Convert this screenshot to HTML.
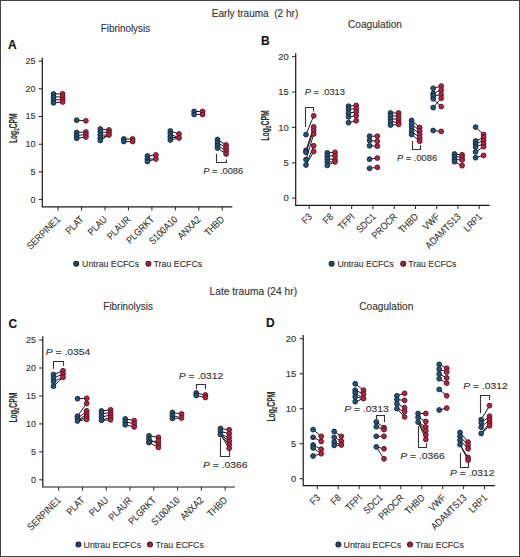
<!DOCTYPE html>
<html><head><meta charset="utf-8"><title>Figure</title>
<style>
html,body{margin:0;padding:0;background:#fff;}
body{width:520px;height:557px;overflow:hidden;}
svg{display:block;font-family:"Liberation Sans", sans-serif;}
text{stroke:#333;stroke-width:0.12px;}
</style></head><body>
<svg width="520" height="557" viewBox="0 0 520 557">
<rect x="0" y="0" width="520" height="557" fill="#fff"/>
<path d="M42.3 57.8 V206.9 H232.4" fill="none" stroke="#1a1a1a" stroke-width="1.2"/>
<line x1="38.699999999999996" y1="199.6" x2="42.3" y2="199.6" stroke="#222" stroke-width="1.0"/>
<text x="35.4" y="202.588" font-size="8.3" text-anchor="end" font-weight="normal" fill="#333" textLength="5.0" lengthAdjust="spacingAndGlyphs">0</text>
<line x1="38.699999999999996" y1="171.9" x2="42.3" y2="171.9" stroke="#222" stroke-width="1.0"/>
<text x="35.4" y="174.888" font-size="8.3" text-anchor="end" font-weight="normal" fill="#333" textLength="5.0" lengthAdjust="spacingAndGlyphs">5</text>
<line x1="38.699999999999996" y1="144.2" x2="42.3" y2="144.2" stroke="#222" stroke-width="1.0"/>
<text x="35.4" y="147.188" font-size="8.3" text-anchor="end" font-weight="normal" fill="#333" textLength="10.0" lengthAdjust="spacingAndGlyphs">10</text>
<line x1="38.699999999999996" y1="116.5" x2="42.3" y2="116.5" stroke="#222" stroke-width="1.0"/>
<text x="35.4" y="119.488" font-size="8.3" text-anchor="end" font-weight="normal" fill="#333" textLength="10.0" lengthAdjust="spacingAndGlyphs">15</text>
<line x1="38.699999999999996" y1="88.8" x2="42.3" y2="88.8" stroke="#222" stroke-width="1.0"/>
<text x="35.4" y="91.788" font-size="8.3" text-anchor="end" font-weight="normal" fill="#333" textLength="10.0" lengthAdjust="spacingAndGlyphs">20</text>
<line x1="38.699999999999996" y1="61.099999999999994" x2="42.3" y2="61.099999999999994" stroke="#222" stroke-width="1.0"/>
<text x="35.4" y="64.088" font-size="8.3" text-anchor="end" font-weight="normal" fill="#333" textLength="10.0" lengthAdjust="spacingAndGlyphs">25</text>
<line x1="58.1" y1="206.9" x2="58.1" y2="210.5" stroke="#222" stroke-width="1.0"/>
<text transform="translate(60.80,220.00) rotate(-45)" font-size="9.8" text-anchor="end" fill="#333" textLength="42.54" lengthAdjust="spacingAndGlyphs">SERPINE1</text>
<line x1="81.55" y1="206.9" x2="81.55" y2="210.5" stroke="#222" stroke-width="1.0"/>
<text transform="translate(84.25,220.00) rotate(-45)" font-size="9.8" text-anchor="end" fill="#333" textLength="20.87" lengthAdjust="spacingAndGlyphs">PLAT</text>
<line x1="105.0" y1="206.9" x2="105.0" y2="210.5" stroke="#222" stroke-width="1.0"/>
<text transform="translate(107.70,220.00) rotate(-45)" font-size="9.8" text-anchor="end" fill="#333" textLength="22.47" lengthAdjust="spacingAndGlyphs">PLAU</text>
<line x1="128.45" y1="206.9" x2="128.45" y2="210.5" stroke="#222" stroke-width="1.0"/>
<text transform="translate(131.15,220.00) rotate(-45)" font-size="9.8" text-anchor="end" fill="#333" textLength="28.68" lengthAdjust="spacingAndGlyphs">PLAUR</text>
<line x1="151.9" y1="206.9" x2="151.9" y2="210.5" stroke="#222" stroke-width="1.0"/>
<text transform="translate(154.60,220.00) rotate(-45)" font-size="9.8" text-anchor="end" fill="#333" textLength="34.41" lengthAdjust="spacingAndGlyphs">PLGRKT</text>
<line x1="175.35" y1="206.9" x2="175.35" y2="210.5" stroke="#222" stroke-width="1.0"/>
<text transform="translate(178.05,220.00) rotate(-45)" font-size="9.8" text-anchor="end" fill="#333" textLength="35.38" lengthAdjust="spacingAndGlyphs">S100A10</text>
<line x1="198.79999999999998" y1="206.9" x2="198.79999999999998" y2="210.5" stroke="#222" stroke-width="1.0"/>
<text transform="translate(201.50,220.00) rotate(-45)" font-size="9.8" text-anchor="end" fill="#333" textLength="28.20" lengthAdjust="spacingAndGlyphs">ANXA2</text>
<line x1="222.25" y1="206.9" x2="222.25" y2="210.5" stroke="#222" stroke-width="1.0"/>
<text transform="translate(224.95,220.00) rotate(-45)" font-size="9.8" text-anchor="end" fill="#333" textLength="23.41" lengthAdjust="spacingAndGlyphs">THBD</text>
<text transform="translate(16.7,128.3) rotate(-90)" font-size="10" font-weight="bold" text-anchor="middle" fill="#2a2a2a" textLength="29.6" lengthAdjust="spacingAndGlyphs">Log<tspan font-size="6.8" dy="2.1">2</tspan><tspan dy="-2.1">CPM</tspan></text>
<line x1="53.5" y1="94" x2="62.6" y2="93.8" stroke="#1a1a1a" stroke-width="1.0"/>
<line x1="53.5" y1="97" x2="62.6" y2="96.8" stroke="#1a1a1a" stroke-width="1.0"/>
<line x1="53.5" y1="100" x2="62.6" y2="99.5" stroke="#1a1a1a" stroke-width="1.0"/>
<line x1="53.5" y1="102.8" x2="62.6" y2="102" stroke="#1a1a1a" stroke-width="1.0"/>
<circle cx="53.5" cy="94" r="2.4" fill="#245579" stroke="#15263a" stroke-width="0.95"/>
<circle cx="53.5" cy="97" r="2.4" fill="#245579" stroke="#15263a" stroke-width="0.95"/>
<circle cx="53.5" cy="100" r="2.4" fill="#245579" stroke="#15263a" stroke-width="0.95"/>
<circle cx="53.5" cy="102.8" r="2.4" fill="#245579" stroke="#15263a" stroke-width="0.95"/>
<circle cx="62.6" cy="93.8" r="2.4" fill="#b72442" stroke="#5a1024" stroke-width="0.95"/>
<circle cx="62.6" cy="96.8" r="2.4" fill="#b72442" stroke="#5a1024" stroke-width="0.95"/>
<circle cx="62.6" cy="99.5" r="2.4" fill="#b72442" stroke="#5a1024" stroke-width="0.95"/>
<circle cx="62.6" cy="102" r="2.4" fill="#b72442" stroke="#5a1024" stroke-width="0.95"/>
<line x1="76.7" y1="120.2" x2="85.9" y2="120.8" stroke="#1a1a1a" stroke-width="1.0"/>
<line x1="76.7" y1="132.5" x2="85.9" y2="132" stroke="#1a1a1a" stroke-width="1.0"/>
<line x1="76.7" y1="135.5" x2="85.9" y2="134.5" stroke="#1a1a1a" stroke-width="1.0"/>
<line x1="76.7" y1="138.3" x2="85.9" y2="137" stroke="#1a1a1a" stroke-width="1.0"/>
<circle cx="76.7" cy="120.2" r="2.4" fill="#245579" stroke="#15263a" stroke-width="0.95"/>
<circle cx="76.7" cy="132.5" r="2.4" fill="#245579" stroke="#15263a" stroke-width="0.95"/>
<circle cx="76.7" cy="135.5" r="2.4" fill="#245579" stroke="#15263a" stroke-width="0.95"/>
<circle cx="76.7" cy="138.3" r="2.4" fill="#245579" stroke="#15263a" stroke-width="0.95"/>
<circle cx="85.9" cy="120.8" r="2.4" fill="#b72442" stroke="#5a1024" stroke-width="0.95"/>
<circle cx="85.9" cy="132" r="2.4" fill="#b72442" stroke="#5a1024" stroke-width="0.95"/>
<circle cx="85.9" cy="134.5" r="2.4" fill="#b72442" stroke="#5a1024" stroke-width="0.95"/>
<circle cx="85.9" cy="137" r="2.4" fill="#b72442" stroke="#5a1024" stroke-width="0.95"/>
<line x1="100.3" y1="129" x2="109" y2="130" stroke="#1a1a1a" stroke-width="1.0"/>
<line x1="100.3" y1="132" x2="109" y2="132.5" stroke="#1a1a1a" stroke-width="1.0"/>
<line x1="100.3" y1="135" x2="109" y2="135" stroke="#1a1a1a" stroke-width="1.0"/>
<line x1="100.3" y1="138" x2="109" y2="135" stroke="#1a1a1a" stroke-width="1.0"/>
<line x1="100.3" y1="140.5" x2="109" y2="135" stroke="#1a1a1a" stroke-width="1.0"/>
<circle cx="100.3" cy="129" r="2.4" fill="#245579" stroke="#15263a" stroke-width="0.95"/>
<circle cx="100.3" cy="132" r="2.4" fill="#245579" stroke="#15263a" stroke-width="0.95"/>
<circle cx="100.3" cy="135" r="2.4" fill="#245579" stroke="#15263a" stroke-width="0.95"/>
<circle cx="100.3" cy="138" r="2.4" fill="#245579" stroke="#15263a" stroke-width="0.95"/>
<circle cx="100.3" cy="140.5" r="2.4" fill="#245579" stroke="#15263a" stroke-width="0.95"/>
<circle cx="109" cy="130" r="2.4" fill="#b72442" stroke="#5a1024" stroke-width="0.95"/>
<circle cx="109" cy="132.5" r="2.4" fill="#b72442" stroke="#5a1024" stroke-width="0.95"/>
<circle cx="109" cy="135" r="2.4" fill="#b72442" stroke="#5a1024" stroke-width="0.95"/>
<line x1="123.8" y1="139" x2="132.6" y2="139" stroke="#1a1a1a" stroke-width="1.0"/>
<line x1="123.8" y1="141.5" x2="132.6" y2="141.5" stroke="#1a1a1a" stroke-width="1.0"/>
<circle cx="123.8" cy="139" r="2.4" fill="#245579" stroke="#15263a" stroke-width="0.95"/>
<circle cx="123.8" cy="141.5" r="2.4" fill="#245579" stroke="#15263a" stroke-width="0.95"/>
<circle cx="132.6" cy="139" r="2.4" fill="#b72442" stroke="#5a1024" stroke-width="0.95"/>
<circle cx="132.6" cy="141.5" r="2.4" fill="#b72442" stroke="#5a1024" stroke-width="0.95"/>
<line x1="147.4" y1="156" x2="155.9" y2="155" stroke="#1a1a1a" stroke-width="1.0"/>
<line x1="147.4" y1="159" x2="155.9" y2="159" stroke="#1a1a1a" stroke-width="1.0"/>
<line x1="147.4" y1="161.5" x2="155.9" y2="159" stroke="#1a1a1a" stroke-width="1.0"/>
<circle cx="147.4" cy="156" r="2.4" fill="#245579" stroke="#15263a" stroke-width="0.95"/>
<circle cx="147.4" cy="159" r="2.4" fill="#245579" stroke="#15263a" stroke-width="0.95"/>
<circle cx="147.4" cy="161.5" r="2.4" fill="#245579" stroke="#15263a" stroke-width="0.95"/>
<circle cx="155.9" cy="155" r="2.4" fill="#b72442" stroke="#5a1024" stroke-width="0.95"/>
<circle cx="155.9" cy="159" r="2.4" fill="#b72442" stroke="#5a1024" stroke-width="0.95"/>
<line x1="170.3" y1="131" x2="179" y2="134" stroke="#1a1a1a" stroke-width="1.0"/>
<line x1="170.3" y1="134" x2="179" y2="138" stroke="#1a1a1a" stroke-width="1.0"/>
<line x1="170.3" y1="137" x2="179" y2="138" stroke="#1a1a1a" stroke-width="1.0"/>
<line x1="170.3" y1="140" x2="179" y2="138" stroke="#1a1a1a" stroke-width="1.0"/>
<circle cx="170.3" cy="131" r="2.4" fill="#245579" stroke="#15263a" stroke-width="0.95"/>
<circle cx="170.3" cy="134" r="2.4" fill="#245579" stroke="#15263a" stroke-width="0.95"/>
<circle cx="170.3" cy="137" r="2.4" fill="#245579" stroke="#15263a" stroke-width="0.95"/>
<circle cx="170.3" cy="140" r="2.4" fill="#245579" stroke="#15263a" stroke-width="0.95"/>
<circle cx="179" cy="134" r="2.4" fill="#b72442" stroke="#5a1024" stroke-width="0.95"/>
<circle cx="179" cy="138" r="2.4" fill="#b72442" stroke="#5a1024" stroke-width="0.95"/>
<line x1="194.1" y1="111.5" x2="202.6" y2="111.5" stroke="#1a1a1a" stroke-width="1.0"/>
<line x1="194.1" y1="114.5" x2="202.6" y2="114.5" stroke="#1a1a1a" stroke-width="1.0"/>
<circle cx="194.1" cy="111.5" r="2.4" fill="#245579" stroke="#15263a" stroke-width="0.95"/>
<circle cx="194.1" cy="114.5" r="2.4" fill="#245579" stroke="#15263a" stroke-width="0.95"/>
<circle cx="202.6" cy="111.5" r="2.4" fill="#b72442" stroke="#5a1024" stroke-width="0.95"/>
<circle cx="202.6" cy="114.5" r="2.4" fill="#b72442" stroke="#5a1024" stroke-width="0.95"/>
<line x1="217.5" y1="139.5" x2="226.1" y2="145" stroke="#1a1a1a" stroke-width="1.0"/>
<line x1="217.5" y1="142.5" x2="226.1" y2="148" stroke="#1a1a1a" stroke-width="1.0"/>
<line x1="217.5" y1="145.5" x2="226.1" y2="151" stroke="#1a1a1a" stroke-width="1.0"/>
<line x1="217.5" y1="148" x2="226.1" y2="154" stroke="#1a1a1a" stroke-width="1.0"/>
<circle cx="217.5" cy="139.5" r="2.4" fill="#245579" stroke="#15263a" stroke-width="0.95"/>
<circle cx="217.5" cy="142.5" r="2.4" fill="#245579" stroke="#15263a" stroke-width="0.95"/>
<circle cx="217.5" cy="145.5" r="2.4" fill="#245579" stroke="#15263a" stroke-width="0.95"/>
<circle cx="217.5" cy="148" r="2.4" fill="#245579" stroke="#15263a" stroke-width="0.95"/>
<circle cx="226.1" cy="145" r="2.4" fill="#b72442" stroke="#5a1024" stroke-width="0.95"/>
<circle cx="226.1" cy="148" r="2.4" fill="#b72442" stroke="#5a1024" stroke-width="0.95"/>
<circle cx="226.1" cy="151" r="2.4" fill="#b72442" stroke="#5a1024" stroke-width="0.95"/>
<circle cx="226.1" cy="154" r="2.4" fill="#b72442" stroke="#5a1024" stroke-width="0.95"/>
<path d="M216.5 153.8 V162.5 H226.5 V159.6" fill="none" stroke="#333" stroke-width="1.1"/>
<text x="203.2" y="174.0" font-size="8.5" fill="#333" textLength="40.0" lengthAdjust="spacingAndGlyphs"><tspan font-style="italic">P</tspan> = .0086</text>
<text x="7.8999999999999995" y="49.300000000000004" font-size="12" text-anchor="start" font-weight="bold" fill="#111">A</text>
<text x="125.4" y="31.6" font-size="10" text-anchor="middle" font-weight="normal" fill="#333" textLength="49.5" lengthAdjust="spacingAndGlyphs">Fibrinolysis</text>
<circle cx="76.2" cy="263.7" r="2.45" fill="#26486a" stroke="#172638" stroke-width="1.1"/>
<text x="82.1" y="266.7" font-size="8.8" text-anchor="start" font-weight="normal" fill="#333" textLength="57.0" lengthAdjust="spacingAndGlyphs">Untrau ECFCs</text>
<circle cx="148.4" cy="263.7" r="2.45" fill="#a82240" stroke="#5a1024" stroke-width="1.1"/>
<text x="153.5" y="266.7" font-size="8.8" text-anchor="start" font-weight="normal" fill="#333" textLength="48.8" lengthAdjust="spacingAndGlyphs">Trau ECFCs</text>
<path d="M295.7 53.2 V205.4 H489.7" fill="none" stroke="#1a1a1a" stroke-width="1.2"/>
<line x1="292.09999999999997" y1="198.2" x2="295.7" y2="198.2" stroke="#222" stroke-width="1.0"/>
<text x="288.8" y="201.332" font-size="8.7" text-anchor="end" font-weight="normal" fill="#333" textLength="5.240963855421686" lengthAdjust="spacingAndGlyphs">0</text>
<line x1="292.09999999999997" y1="162.79999999999998" x2="295.7" y2="162.79999999999998" stroke="#222" stroke-width="1.0"/>
<text x="288.8" y="165.932" font-size="8.7" text-anchor="end" font-weight="normal" fill="#333" textLength="5.240963855421686" lengthAdjust="spacingAndGlyphs">5</text>
<line x1="292.09999999999997" y1="127.39999999999999" x2="295.7" y2="127.39999999999999" stroke="#222" stroke-width="1.0"/>
<text x="288.8" y="130.53199999999998" font-size="8.7" text-anchor="end" font-weight="normal" fill="#333" textLength="10.481927710843372" lengthAdjust="spacingAndGlyphs">10</text>
<line x1="292.09999999999997" y1="91.99999999999999" x2="295.7" y2="91.99999999999999" stroke="#222" stroke-width="1.0"/>
<text x="288.8" y="95.13199999999999" font-size="8.7" text-anchor="end" font-weight="normal" fill="#333" textLength="10.481927710843372" lengthAdjust="spacingAndGlyphs">15</text>
<line x1="292.09999999999997" y1="56.599999999999994" x2="295.7" y2="56.599999999999994" stroke="#222" stroke-width="1.0"/>
<text x="288.8" y="59.73199999999999" font-size="8.7" text-anchor="end" font-weight="normal" fill="#333" textLength="10.481927710843372" lengthAdjust="spacingAndGlyphs">20</text>
<line x1="309.2" y1="205.4" x2="309.2" y2="209.0" stroke="#222" stroke-width="1.0"/>
<text transform="translate(312.70,217.30) rotate(-45)" font-size="9.8" text-anchor="end" fill="#333" textLength="10.04" lengthAdjust="spacingAndGlyphs">F3</text>
<line x1="330.45" y1="205.4" x2="330.45" y2="209.0" stroke="#222" stroke-width="1.0"/>
<text transform="translate(333.95,217.30) rotate(-45)" font-size="9.8" text-anchor="end" fill="#333" textLength="10.04" lengthAdjust="spacingAndGlyphs">F8</text>
<line x1="351.7" y1="205.4" x2="351.7" y2="209.0" stroke="#222" stroke-width="1.0"/>
<text transform="translate(355.20,217.30) rotate(-45)" font-size="9.8" text-anchor="end" fill="#333" textLength="18.63" lengthAdjust="spacingAndGlyphs">TFPI</text>
<line x1="372.95" y1="205.4" x2="372.95" y2="209.0" stroke="#222" stroke-width="1.0"/>
<text transform="translate(376.45,217.30) rotate(-45)" font-size="9.8" text-anchor="end" fill="#333" textLength="22.94" lengthAdjust="spacingAndGlyphs">SDC1</text>
<line x1="394.2" y1="205.4" x2="394.2" y2="209.0" stroke="#222" stroke-width="1.0"/>
<text transform="translate(397.70,217.30) rotate(-45)" font-size="9.8" text-anchor="end" fill="#333" textLength="31.06" lengthAdjust="spacingAndGlyphs">PROCR</text>
<line x1="415.45" y1="205.4" x2="415.45" y2="209.0" stroke="#222" stroke-width="1.0"/>
<text transform="translate(418.95,217.30) rotate(-45)" font-size="9.8" text-anchor="end" fill="#333" textLength="23.41" lengthAdjust="spacingAndGlyphs">THBD</text>
<line x1="436.7" y1="205.4" x2="436.7" y2="209.0" stroke="#222" stroke-width="1.0"/>
<text transform="translate(440.20,217.30) rotate(-45)" font-size="9.8" text-anchor="end" fill="#333" textLength="19.11" lengthAdjust="spacingAndGlyphs">VWF</text>
<line x1="457.95" y1="205.4" x2="457.95" y2="209.0" stroke="#222" stroke-width="1.0"/>
<text transform="translate(461.45,217.30) rotate(-45)" font-size="9.8" text-anchor="end" fill="#333" textLength="45.40" lengthAdjust="spacingAndGlyphs">ADAMTS13</text>
<line x1="479.2" y1="205.4" x2="479.2" y2="209.0" stroke="#222" stroke-width="1.0"/>
<text transform="translate(482.70,217.30) rotate(-45)" font-size="9.8" text-anchor="end" fill="#333" textLength="21.51" lengthAdjust="spacingAndGlyphs">LRP1</text>
<text transform="translate(269.2,125.5) rotate(-90)" font-size="10" font-weight="bold" text-anchor="middle" fill="#2a2a2a" textLength="30.5" lengthAdjust="spacingAndGlyphs">Log<tspan font-size="6.8" dy="2.1">2</tspan><tspan dy="-2.1">CPM</tspan></text>
<line x1="306" y1="134.6" x2="313.7" y2="115.8" stroke="#1a1a1a" stroke-width="1.0"/>
<line x1="306" y1="150.4" x2="313.7" y2="126.9" stroke="#1a1a1a" stroke-width="1.0"/>
<line x1="306" y1="152.3" x2="313.7" y2="130.4" stroke="#1a1a1a" stroke-width="1.0"/>
<line x1="306" y1="159.6" x2="313.7" y2="134" stroke="#1a1a1a" stroke-width="1.0"/>
<line x1="306" y1="165" x2="313.7" y2="145.8" stroke="#1a1a1a" stroke-width="1.0"/>
<line x1="306" y1="165" x2="313.7" y2="151.5" stroke="#1a1a1a" stroke-width="1.0"/>
<circle cx="306" cy="134.6" r="2.4" fill="#245579" stroke="#15263a" stroke-width="0.95"/>
<circle cx="306" cy="150.4" r="2.4" fill="#245579" stroke="#15263a" stroke-width="0.95"/>
<circle cx="306" cy="152.3" r="2.4" fill="#245579" stroke="#15263a" stroke-width="0.95"/>
<circle cx="306" cy="159.6" r="2.4" fill="#245579" stroke="#15263a" stroke-width="0.95"/>
<circle cx="306" cy="165" r="2.4" fill="#245579" stroke="#15263a" stroke-width="0.95"/>
<circle cx="313.7" cy="115.8" r="2.4" fill="#b72442" stroke="#5a1024" stroke-width="0.95"/>
<circle cx="313.7" cy="126.9" r="2.4" fill="#b72442" stroke="#5a1024" stroke-width="0.95"/>
<circle cx="313.7" cy="130.4" r="2.4" fill="#b72442" stroke="#5a1024" stroke-width="0.95"/>
<circle cx="313.7" cy="134" r="2.4" fill="#b72442" stroke="#5a1024" stroke-width="0.95"/>
<circle cx="313.7" cy="145.8" r="2.4" fill="#b72442" stroke="#5a1024" stroke-width="0.95"/>
<circle cx="313.7" cy="151.5" r="2.4" fill="#b72442" stroke="#5a1024" stroke-width="0.95"/>
<line x1="327.3" y1="152.9" x2="335" y2="152.3" stroke="#1a1a1a" stroke-width="1.0"/>
<line x1="327.3" y1="155.8" x2="335" y2="155.8" stroke="#1a1a1a" stroke-width="1.0"/>
<line x1="327.3" y1="158.7" x2="335" y2="159.6" stroke="#1a1a1a" stroke-width="1.0"/>
<line x1="327.3" y1="161.9" x2="335" y2="161.9" stroke="#1a1a1a" stroke-width="1.0"/>
<line x1="327.3" y1="165.4" x2="335" y2="161.9" stroke="#1a1a1a" stroke-width="1.0"/>
<circle cx="327.3" cy="152.9" r="2.4" fill="#245579" stroke="#15263a" stroke-width="0.95"/>
<circle cx="327.3" cy="155.8" r="2.4" fill="#245579" stroke="#15263a" stroke-width="0.95"/>
<circle cx="327.3" cy="158.7" r="2.4" fill="#245579" stroke="#15263a" stroke-width="0.95"/>
<circle cx="327.3" cy="161.9" r="2.4" fill="#245579" stroke="#15263a" stroke-width="0.95"/>
<circle cx="327.3" cy="165.4" r="2.4" fill="#245579" stroke="#15263a" stroke-width="0.95"/>
<circle cx="335" cy="152.3" r="2.4" fill="#b72442" stroke="#5a1024" stroke-width="0.95"/>
<circle cx="335" cy="155.8" r="2.4" fill="#b72442" stroke="#5a1024" stroke-width="0.95"/>
<circle cx="335" cy="159.6" r="2.4" fill="#b72442" stroke="#5a1024" stroke-width="0.95"/>
<circle cx="335" cy="161.9" r="2.4" fill="#b72442" stroke="#5a1024" stroke-width="0.95"/>
<line x1="348.5" y1="106.2" x2="356.2" y2="105.4" stroke="#1a1a1a" stroke-width="1.0"/>
<line x1="348.5" y1="109.2" x2="356.2" y2="108.7" stroke="#1a1a1a" stroke-width="1.0"/>
<line x1="348.5" y1="113.1" x2="356.2" y2="111.9" stroke="#1a1a1a" stroke-width="1.0"/>
<line x1="348.5" y1="116.9" x2="356.2" y2="115.8" stroke="#1a1a1a" stroke-width="1.0"/>
<line x1="348.5" y1="122.7" x2="356.2" y2="120.8" stroke="#1a1a1a" stroke-width="1.0"/>
<circle cx="348.5" cy="106.2" r="2.4" fill="#245579" stroke="#15263a" stroke-width="0.95"/>
<circle cx="348.5" cy="109.2" r="2.4" fill="#245579" stroke="#15263a" stroke-width="0.95"/>
<circle cx="348.5" cy="113.1" r="2.4" fill="#245579" stroke="#15263a" stroke-width="0.95"/>
<circle cx="348.5" cy="116.9" r="2.4" fill="#245579" stroke="#15263a" stroke-width="0.95"/>
<circle cx="348.5" cy="122.7" r="2.4" fill="#245579" stroke="#15263a" stroke-width="0.95"/>
<circle cx="356.2" cy="105.4" r="2.4" fill="#b72442" stroke="#5a1024" stroke-width="0.95"/>
<circle cx="356.2" cy="108.7" r="2.4" fill="#b72442" stroke="#5a1024" stroke-width="0.95"/>
<circle cx="356.2" cy="111.9" r="2.4" fill="#b72442" stroke="#5a1024" stroke-width="0.95"/>
<circle cx="356.2" cy="115.8" r="2.4" fill="#b72442" stroke="#5a1024" stroke-width="0.95"/>
<circle cx="356.2" cy="120.8" r="2.4" fill="#b72442" stroke="#5a1024" stroke-width="0.95"/>
<line x1="369.6" y1="136.2" x2="377.3" y2="136.2" stroke="#1a1a1a" stroke-width="1.0"/>
<line x1="369.6" y1="140.4" x2="377.3" y2="141.3" stroke="#1a1a1a" stroke-width="1.0"/>
<line x1="369.6" y1="145.8" x2="377.3" y2="146.2" stroke="#1a1a1a" stroke-width="1.0"/>
<line x1="369.6" y1="159.2" x2="377.3" y2="158.1" stroke="#1a1a1a" stroke-width="1.0"/>
<line x1="369.6" y1="168.3" x2="377.3" y2="167.3" stroke="#1a1a1a" stroke-width="1.0"/>
<circle cx="369.6" cy="136.2" r="2.4" fill="#245579" stroke="#15263a" stroke-width="0.95"/>
<circle cx="369.6" cy="140.4" r="2.4" fill="#245579" stroke="#15263a" stroke-width="0.95"/>
<circle cx="369.6" cy="145.8" r="2.4" fill="#245579" stroke="#15263a" stroke-width="0.95"/>
<circle cx="369.6" cy="159.2" r="2.4" fill="#245579" stroke="#15263a" stroke-width="0.95"/>
<circle cx="369.6" cy="168.3" r="2.4" fill="#245579" stroke="#15263a" stroke-width="0.95"/>
<circle cx="377.3" cy="136.2" r="2.4" fill="#b72442" stroke="#5a1024" stroke-width="0.95"/>
<circle cx="377.3" cy="141.3" r="2.4" fill="#b72442" stroke="#5a1024" stroke-width="0.95"/>
<circle cx="377.3" cy="146.2" r="2.4" fill="#b72442" stroke="#5a1024" stroke-width="0.95"/>
<circle cx="377.3" cy="158.1" r="2.4" fill="#b72442" stroke="#5a1024" stroke-width="0.95"/>
<circle cx="377.3" cy="167.3" r="2.4" fill="#b72442" stroke="#5a1024" stroke-width="0.95"/>
<line x1="390.5" y1="113" x2="398.6" y2="113" stroke="#1a1a1a" stroke-width="1.0"/>
<line x1="390.5" y1="115.7" x2="398.6" y2="116.1" stroke="#1a1a1a" stroke-width="1.0"/>
<line x1="390.5" y1="118.8" x2="398.6" y2="119.3" stroke="#1a1a1a" stroke-width="1.0"/>
<line x1="390.5" y1="121.7" x2="398.6" y2="122.4" stroke="#1a1a1a" stroke-width="1.0"/>
<line x1="390.5" y1="125.1" x2="398.6" y2="124.4" stroke="#1a1a1a" stroke-width="1.0"/>
<circle cx="390.5" cy="113" r="2.4" fill="#245579" stroke="#15263a" stroke-width="0.95"/>
<circle cx="390.5" cy="115.7" r="2.4" fill="#245579" stroke="#15263a" stroke-width="0.95"/>
<circle cx="390.5" cy="118.8" r="2.4" fill="#245579" stroke="#15263a" stroke-width="0.95"/>
<circle cx="390.5" cy="121.7" r="2.4" fill="#245579" stroke="#15263a" stroke-width="0.95"/>
<circle cx="390.5" cy="125.1" r="2.4" fill="#245579" stroke="#15263a" stroke-width="0.95"/>
<circle cx="398.6" cy="113" r="2.4" fill="#b72442" stroke="#5a1024" stroke-width="0.95"/>
<circle cx="398.6" cy="116.1" r="2.4" fill="#b72442" stroke="#5a1024" stroke-width="0.95"/>
<circle cx="398.6" cy="119.3" r="2.4" fill="#b72442" stroke="#5a1024" stroke-width="0.95"/>
<circle cx="398.6" cy="122.4" r="2.4" fill="#b72442" stroke="#5a1024" stroke-width="0.95"/>
<circle cx="398.6" cy="124.4" r="2.4" fill="#b72442" stroke="#5a1024" stroke-width="0.95"/>
<line x1="411.6" y1="120.4" x2="419.7" y2="127.4" stroke="#1a1a1a" stroke-width="1.0"/>
<line x1="411.6" y1="123.7" x2="419.7" y2="130.9" stroke="#1a1a1a" stroke-width="1.0"/>
<line x1="411.6" y1="127.1" x2="419.7" y2="134.5" stroke="#1a1a1a" stroke-width="1.0"/>
<line x1="411.6" y1="131.1" x2="419.7" y2="137.9" stroke="#1a1a1a" stroke-width="1.0"/>
<line x1="411.6" y1="134.5" x2="419.7" y2="141.2" stroke="#1a1a1a" stroke-width="1.0"/>
<circle cx="411.6" cy="120.4" r="2.4" fill="#245579" stroke="#15263a" stroke-width="0.95"/>
<circle cx="411.6" cy="123.7" r="2.4" fill="#245579" stroke="#15263a" stroke-width="0.95"/>
<circle cx="411.6" cy="127.1" r="2.4" fill="#245579" stroke="#15263a" stroke-width="0.95"/>
<circle cx="411.6" cy="131.1" r="2.4" fill="#245579" stroke="#15263a" stroke-width="0.95"/>
<circle cx="411.6" cy="134.5" r="2.4" fill="#245579" stroke="#15263a" stroke-width="0.95"/>
<circle cx="419.7" cy="127.4" r="2.4" fill="#b72442" stroke="#5a1024" stroke-width="0.95"/>
<circle cx="419.7" cy="130.9" r="2.4" fill="#b72442" stroke="#5a1024" stroke-width="0.95"/>
<circle cx="419.7" cy="134.5" r="2.4" fill="#b72442" stroke="#5a1024" stroke-width="0.95"/>
<circle cx="419.7" cy="137.9" r="2.4" fill="#b72442" stroke="#5a1024" stroke-width="0.95"/>
<circle cx="419.7" cy="141.2" r="2.4" fill="#b72442" stroke="#5a1024" stroke-width="0.95"/>
<line x1="433.2" y1="88.3" x2="441.2" y2="86.1" stroke="#1a1a1a" stroke-width="1.0"/>
<line x1="433.2" y1="93.5" x2="441.2" y2="90.1" stroke="#1a1a1a" stroke-width="1.0"/>
<line x1="433.2" y1="95.9" x2="441.2" y2="94.5" stroke="#1a1a1a" stroke-width="1.0"/>
<line x1="433.2" y1="98.8" x2="441.2" y2="106.6" stroke="#1a1a1a" stroke-width="1.0"/>
<line x1="433.2" y1="107.6" x2="441.2" y2="98.2" stroke="#1a1a1a" stroke-width="1.0"/>
<line x1="433.2" y1="130.5" x2="441.2" y2="131.4" stroke="#1a1a1a" stroke-width="1.0"/>
<circle cx="433.2" cy="88.3" r="2.4" fill="#245579" stroke="#15263a" stroke-width="0.95"/>
<circle cx="433.2" cy="93.5" r="2.4" fill="#245579" stroke="#15263a" stroke-width="0.95"/>
<circle cx="433.2" cy="95.9" r="2.4" fill="#245579" stroke="#15263a" stroke-width="0.95"/>
<circle cx="433.2" cy="98.8" r="2.4" fill="#245579" stroke="#15263a" stroke-width="0.95"/>
<circle cx="433.2" cy="107.6" r="2.4" fill="#245579" stroke="#15263a" stroke-width="0.95"/>
<circle cx="433.2" cy="130.5" r="2.4" fill="#245579" stroke="#15263a" stroke-width="0.95"/>
<circle cx="441.2" cy="86.1" r="2.4" fill="#b72442" stroke="#5a1024" stroke-width="0.95"/>
<circle cx="441.2" cy="90.1" r="2.4" fill="#b72442" stroke="#5a1024" stroke-width="0.95"/>
<circle cx="441.2" cy="94.5" r="2.4" fill="#b72442" stroke="#5a1024" stroke-width="0.95"/>
<circle cx="441.2" cy="106.6" r="2.4" fill="#b72442" stroke="#5a1024" stroke-width="0.95"/>
<circle cx="441.2" cy="98.2" r="2.4" fill="#b72442" stroke="#5a1024" stroke-width="0.95"/>
<circle cx="441.2" cy="131.4" r="2.4" fill="#b72442" stroke="#5a1024" stroke-width="0.95"/>
<line x1="454.5" y1="154" x2="462.1" y2="154.8" stroke="#1a1a1a" stroke-width="1.0"/>
<line x1="454.5" y1="156.5" x2="462.1" y2="157.4" stroke="#1a1a1a" stroke-width="1.0"/>
<line x1="454.5" y1="159.4" x2="462.1" y2="160" stroke="#1a1a1a" stroke-width="1.0"/>
<line x1="454.5" y1="161.7" x2="462.1" y2="165.7" stroke="#1a1a1a" stroke-width="1.0"/>
<circle cx="454.5" cy="154" r="2.4" fill="#245579" stroke="#15263a" stroke-width="0.95"/>
<circle cx="454.5" cy="156.5" r="2.4" fill="#245579" stroke="#15263a" stroke-width="0.95"/>
<circle cx="454.5" cy="159.4" r="2.4" fill="#245579" stroke="#15263a" stroke-width="0.95"/>
<circle cx="454.5" cy="161.7" r="2.4" fill="#245579" stroke="#15263a" stroke-width="0.95"/>
<circle cx="462.1" cy="154.8" r="2.4" fill="#b72442" stroke="#5a1024" stroke-width="0.95"/>
<circle cx="462.1" cy="157.4" r="2.4" fill="#b72442" stroke="#5a1024" stroke-width="0.95"/>
<circle cx="462.1" cy="160" r="2.4" fill="#b72442" stroke="#5a1024" stroke-width="0.95"/>
<circle cx="462.1" cy="165.7" r="2.4" fill="#b72442" stroke="#5a1024" stroke-width="0.95"/>
<line x1="475.6" y1="127.1" x2="483.6" y2="134.6" stroke="#1a1a1a" stroke-width="1.0"/>
<line x1="475.6" y1="141" x2="483.6" y2="137.5" stroke="#1a1a1a" stroke-width="1.0"/>
<line x1="475.6" y1="144" x2="483.6" y2="140.4" stroke="#1a1a1a" stroke-width="1.0"/>
<line x1="475.6" y1="147" x2="483.6" y2="143.8" stroke="#1a1a1a" stroke-width="1.0"/>
<line x1="475.6" y1="151.9" x2="483.6" y2="146.7" stroke="#1a1a1a" stroke-width="1.0"/>
<line x1="475.6" y1="157.7" x2="483.6" y2="155.4" stroke="#1a1a1a" stroke-width="1.0"/>
<circle cx="475.6" cy="127.1" r="2.4" fill="#245579" stroke="#15263a" stroke-width="0.95"/>
<circle cx="475.6" cy="141" r="2.4" fill="#245579" stroke="#15263a" stroke-width="0.95"/>
<circle cx="475.6" cy="144" r="2.4" fill="#245579" stroke="#15263a" stroke-width="0.95"/>
<circle cx="475.6" cy="147" r="2.4" fill="#245579" stroke="#15263a" stroke-width="0.95"/>
<circle cx="475.6" cy="151.9" r="2.4" fill="#245579" stroke="#15263a" stroke-width="0.95"/>
<circle cx="475.6" cy="157.7" r="2.4" fill="#245579" stroke="#15263a" stroke-width="0.95"/>
<circle cx="483.6" cy="134.6" r="2.4" fill="#b72442" stroke="#5a1024" stroke-width="0.95"/>
<circle cx="483.6" cy="137.5" r="2.4" fill="#b72442" stroke="#5a1024" stroke-width="0.95"/>
<circle cx="483.6" cy="140.4" r="2.4" fill="#b72442" stroke="#5a1024" stroke-width="0.95"/>
<circle cx="483.6" cy="143.8" r="2.4" fill="#b72442" stroke="#5a1024" stroke-width="0.95"/>
<circle cx="483.6" cy="146.7" r="2.4" fill="#b72442" stroke="#5a1024" stroke-width="0.95"/>
<circle cx="483.6" cy="155.4" r="2.4" fill="#b72442" stroke="#5a1024" stroke-width="0.95"/>
<path d="M305.5 127 V107.5 H313.5 V111.5" fill="none" stroke="#333" stroke-width="1.1"/>
<text x="304.8" y="94.6" font-size="8.5" fill="#333" textLength="40.2" lengthAdjust="spacingAndGlyphs"><tspan font-style="italic">P</tspan> = .0313</text>
<path d="M412.5 141 V149.5 H420.5 V145" fill="none" stroke="#333" stroke-width="1.1"/>
<text x="397" y="160.5" font-size="8.5" fill="#333" textLength="40.2" lengthAdjust="spacingAndGlyphs"><tspan font-style="italic">P</tspan> = .0086</text>
<text x="260.95" y="45.2" font-size="12" text-anchor="start" font-weight="bold" fill="#111">B</text>
<text x="375" y="27.7" font-size="10" text-anchor="middle" font-weight="normal" fill="#333" textLength="54" lengthAdjust="spacingAndGlyphs">Coagulation</text>
<circle cx="331.6" cy="263.7" r="2.45" fill="#26486a" stroke="#172638" stroke-width="1.1"/>
<text x="337.5" y="266.7" font-size="8.8" text-anchor="start" font-weight="normal" fill="#333" textLength="56.4" lengthAdjust="spacingAndGlyphs">Untrau ECFCs</text>
<circle cx="403.2" cy="263.7" r="2.45" fill="#a82240" stroke="#5a1024" stroke-width="1.1"/>
<text x="408.3" y="266.7" font-size="8.8" text-anchor="start" font-weight="normal" fill="#333" textLength="48.2" lengthAdjust="spacingAndGlyphs">Trau ECFCs</text>
<path d="M42.8 336.2 V487 H235" fill="none" stroke="#1a1a1a" stroke-width="1.2"/>
<line x1="39.199999999999996" y1="479.8" x2="42.8" y2="479.8" stroke="#222" stroke-width="1.0"/>
<text x="35.9" y="482.788" font-size="8.3" text-anchor="end" font-weight="normal" fill="#333" textLength="5.0" lengthAdjust="spacingAndGlyphs">0</text>
<line x1="39.199999999999996" y1="451.85" x2="42.8" y2="451.85" stroke="#222" stroke-width="1.0"/>
<text x="35.9" y="454.838" font-size="8.3" text-anchor="end" font-weight="normal" fill="#333" textLength="5.0" lengthAdjust="spacingAndGlyphs">5</text>
<line x1="39.199999999999996" y1="423.90000000000003" x2="42.8" y2="423.90000000000003" stroke="#222" stroke-width="1.0"/>
<text x="35.9" y="426.88800000000003" font-size="8.3" text-anchor="end" font-weight="normal" fill="#333" textLength="10.0" lengthAdjust="spacingAndGlyphs">10</text>
<line x1="39.199999999999996" y1="395.95000000000005" x2="42.8" y2="395.95000000000005" stroke="#222" stroke-width="1.0"/>
<text x="35.9" y="398.93800000000005" font-size="8.3" text-anchor="end" font-weight="normal" fill="#333" textLength="10.0" lengthAdjust="spacingAndGlyphs">15</text>
<line x1="39.199999999999996" y1="368.0" x2="42.8" y2="368.0" stroke="#222" stroke-width="1.0"/>
<text x="35.9" y="370.988" font-size="8.3" text-anchor="end" font-weight="normal" fill="#333" textLength="10.0" lengthAdjust="spacingAndGlyphs">20</text>
<line x1="39.199999999999996" y1="340.05" x2="42.8" y2="340.05" stroke="#222" stroke-width="1.0"/>
<text x="35.9" y="343.038" font-size="8.3" text-anchor="end" font-weight="normal" fill="#333" textLength="10.0" lengthAdjust="spacingAndGlyphs">25</text>
<line x1="58.7" y1="487" x2="58.7" y2="490.6" stroke="#222" stroke-width="1.0"/>
<text transform="translate(61.40,500.90) rotate(-45)" font-size="9.8" text-anchor="end" fill="#333" textLength="42.54" lengthAdjust="spacingAndGlyphs">SERPINE1</text>
<line x1="82.48" y1="487" x2="82.48" y2="490.6" stroke="#222" stroke-width="1.0"/>
<text transform="translate(85.18,500.90) rotate(-45)" font-size="9.8" text-anchor="end" fill="#333" textLength="20.87" lengthAdjust="spacingAndGlyphs">PLAT</text>
<line x1="106.26" y1="487" x2="106.26" y2="490.6" stroke="#222" stroke-width="1.0"/>
<text transform="translate(108.96,500.90) rotate(-45)" font-size="9.8" text-anchor="end" fill="#333" textLength="22.47" lengthAdjust="spacingAndGlyphs">PLAU</text>
<line x1="130.04000000000002" y1="487" x2="130.04000000000002" y2="490.6" stroke="#222" stroke-width="1.0"/>
<text transform="translate(132.74,500.90) rotate(-45)" font-size="9.8" text-anchor="end" fill="#333" textLength="28.68" lengthAdjust="spacingAndGlyphs">PLAUR</text>
<line x1="153.82" y1="487" x2="153.82" y2="490.6" stroke="#222" stroke-width="1.0"/>
<text transform="translate(156.52,500.90) rotate(-45)" font-size="9.8" text-anchor="end" fill="#333" textLength="34.41" lengthAdjust="spacingAndGlyphs">PLGRKT</text>
<line x1="177.60000000000002" y1="487" x2="177.60000000000002" y2="490.6" stroke="#222" stroke-width="1.0"/>
<text transform="translate(180.30,500.90) rotate(-45)" font-size="9.8" text-anchor="end" fill="#333" textLength="35.38" lengthAdjust="spacingAndGlyphs">S100A10</text>
<line x1="201.38" y1="487" x2="201.38" y2="490.6" stroke="#222" stroke-width="1.0"/>
<text transform="translate(204.08,500.90) rotate(-45)" font-size="9.8" text-anchor="end" fill="#333" textLength="28.20" lengthAdjust="spacingAndGlyphs">ANXA2</text>
<line x1="225.16000000000003" y1="487" x2="225.16000000000003" y2="490.6" stroke="#222" stroke-width="1.0"/>
<text transform="translate(227.86,500.90) rotate(-45)" font-size="9.8" text-anchor="end" fill="#333" textLength="23.41" lengthAdjust="spacingAndGlyphs">THBD</text>
<text transform="translate(16.7,407.6) rotate(-90)" font-size="10" font-weight="bold" text-anchor="middle" fill="#2a2a2a" textLength="29.9" lengthAdjust="spacingAndGlyphs">Log<tspan font-size="6.8" dy="2.1">2</tspan><tspan dy="-2.1">CPM</tspan></text>
<line x1="53.5" y1="374.6" x2="63" y2="370.8" stroke="#1a1a1a" stroke-width="1.0"/>
<line x1="53.5" y1="378" x2="63" y2="374" stroke="#1a1a1a" stroke-width="1.0"/>
<line x1="53.5" y1="381.5" x2="63" y2="377.3" stroke="#1a1a1a" stroke-width="1.0"/>
<line x1="53.5" y1="386.2" x2="63" y2="377.3" stroke="#1a1a1a" stroke-width="1.0"/>
<circle cx="53.5" cy="374.6" r="2.4" fill="#245579" stroke="#15263a" stroke-width="0.95"/>
<circle cx="53.5" cy="378" r="2.4" fill="#245579" stroke="#15263a" stroke-width="0.95"/>
<circle cx="53.5" cy="381.5" r="2.4" fill="#245579" stroke="#15263a" stroke-width="0.95"/>
<circle cx="53.5" cy="386.2" r="2.4" fill="#245579" stroke="#15263a" stroke-width="0.95"/>
<circle cx="63" cy="370.8" r="2.4" fill="#b72442" stroke="#5a1024" stroke-width="0.95"/>
<circle cx="63" cy="374" r="2.4" fill="#b72442" stroke="#5a1024" stroke-width="0.95"/>
<circle cx="63" cy="377.3" r="2.4" fill="#b72442" stroke="#5a1024" stroke-width="0.95"/>
<line x1="77.5" y1="398.7" x2="86.7" y2="398.3" stroke="#1a1a1a" stroke-width="1.0"/>
<line x1="77.5" y1="416.2" x2="86.7" y2="403.5" stroke="#1a1a1a" stroke-width="1.0"/>
<line x1="77.5" y1="418.5" x2="86.7" y2="410.8" stroke="#1a1a1a" stroke-width="1.0"/>
<line x1="77.5" y1="421" x2="86.7" y2="413.7" stroke="#1a1a1a" stroke-width="1.0"/>
<line x1="77.5" y1="421" x2="86.7" y2="416.5" stroke="#1a1a1a" stroke-width="1.0"/>
<line x1="77.5" y1="421" x2="86.7" y2="419.4" stroke="#1a1a1a" stroke-width="1.0"/>
<circle cx="77.5" cy="398.7" r="2.4" fill="#245579" stroke="#15263a" stroke-width="0.95"/>
<circle cx="77.5" cy="416.2" r="2.4" fill="#245579" stroke="#15263a" stroke-width="0.95"/>
<circle cx="77.5" cy="418.5" r="2.4" fill="#245579" stroke="#15263a" stroke-width="0.95"/>
<circle cx="77.5" cy="421" r="2.4" fill="#245579" stroke="#15263a" stroke-width="0.95"/>
<circle cx="86.7" cy="398.3" r="2.4" fill="#b72442" stroke="#5a1024" stroke-width="0.95"/>
<circle cx="86.7" cy="403.5" r="2.4" fill="#b72442" stroke="#5a1024" stroke-width="0.95"/>
<circle cx="86.7" cy="410.8" r="2.4" fill="#b72442" stroke="#5a1024" stroke-width="0.95"/>
<circle cx="86.7" cy="413.7" r="2.4" fill="#b72442" stroke="#5a1024" stroke-width="0.95"/>
<circle cx="86.7" cy="416.5" r="2.4" fill="#b72442" stroke="#5a1024" stroke-width="0.95"/>
<circle cx="86.7" cy="419.4" r="2.4" fill="#b72442" stroke="#5a1024" stroke-width="0.95"/>
<line x1="101.5" y1="411" x2="110.6" y2="409.8" stroke="#1a1a1a" stroke-width="1.0"/>
<line x1="101.5" y1="414" x2="110.6" y2="412.3" stroke="#1a1a1a" stroke-width="1.0"/>
<line x1="101.5" y1="417.2" x2="110.6" y2="414.8" stroke="#1a1a1a" stroke-width="1.0"/>
<line x1="101.5" y1="420.3" x2="110.6" y2="417.3" stroke="#1a1a1a" stroke-width="1.0"/>
<line x1="101.5" y1="420.3" x2="110.6" y2="419.8" stroke="#1a1a1a" stroke-width="1.0"/>
<circle cx="101.5" cy="411" r="2.4" fill="#245579" stroke="#15263a" stroke-width="0.95"/>
<circle cx="101.5" cy="414" r="2.4" fill="#245579" stroke="#15263a" stroke-width="0.95"/>
<circle cx="101.5" cy="417.2" r="2.4" fill="#245579" stroke="#15263a" stroke-width="0.95"/>
<circle cx="101.5" cy="420.3" r="2.4" fill="#245579" stroke="#15263a" stroke-width="0.95"/>
<circle cx="110.6" cy="409.8" r="2.4" fill="#b72442" stroke="#5a1024" stroke-width="0.95"/>
<circle cx="110.6" cy="412.3" r="2.4" fill="#b72442" stroke="#5a1024" stroke-width="0.95"/>
<circle cx="110.6" cy="414.8" r="2.4" fill="#b72442" stroke="#5a1024" stroke-width="0.95"/>
<circle cx="110.6" cy="417.3" r="2.4" fill="#b72442" stroke="#5a1024" stroke-width="0.95"/>
<circle cx="110.6" cy="419.8" r="2.4" fill="#b72442" stroke="#5a1024" stroke-width="0.95"/>
<line x1="125.2" y1="418.9" x2="134.2" y2="420.6" stroke="#1a1a1a" stroke-width="1.0"/>
<line x1="125.2" y1="421.9" x2="134.2" y2="423.7" stroke="#1a1a1a" stroke-width="1.0"/>
<line x1="125.2" y1="424.8" x2="134.2" y2="426.9" stroke="#1a1a1a" stroke-width="1.0"/>
<circle cx="125.2" cy="418.9" r="2.4" fill="#245579" stroke="#15263a" stroke-width="0.95"/>
<circle cx="125.2" cy="421.9" r="2.4" fill="#245579" stroke="#15263a" stroke-width="0.95"/>
<circle cx="125.2" cy="424.8" r="2.4" fill="#245579" stroke="#15263a" stroke-width="0.95"/>
<circle cx="134.2" cy="420.6" r="2.4" fill="#b72442" stroke="#5a1024" stroke-width="0.95"/>
<circle cx="134.2" cy="423.7" r="2.4" fill="#b72442" stroke="#5a1024" stroke-width="0.95"/>
<circle cx="134.2" cy="426.9" r="2.4" fill="#b72442" stroke="#5a1024" stroke-width="0.95"/>
<line x1="149.0" y1="435.8" x2="158.4" y2="437.3" stroke="#1a1a1a" stroke-width="1.0"/>
<line x1="149.0" y1="439" x2="158.4" y2="444" stroke="#1a1a1a" stroke-width="1.0"/>
<line x1="149.0" y1="442.4" x2="158.4" y2="447.4" stroke="#1a1a1a" stroke-width="1.0"/>
<line x1="149.0" y1="442.4" x2="158.4" y2="440.7" stroke="#1a1a1a" stroke-width="1.0"/>
<circle cx="149.0" cy="435.8" r="2.4" fill="#245579" stroke="#15263a" stroke-width="0.95"/>
<circle cx="149.0" cy="439" r="2.4" fill="#245579" stroke="#15263a" stroke-width="0.95"/>
<circle cx="149.0" cy="442.4" r="2.4" fill="#245579" stroke="#15263a" stroke-width="0.95"/>
<circle cx="149.0" cy="442.4" r="2.4" fill="#245579" stroke="#15263a" stroke-width="0.95"/>
<circle cx="158.4" cy="437.3" r="2.4" fill="#b72442" stroke="#5a1024" stroke-width="0.95"/>
<circle cx="158.4" cy="444" r="2.4" fill="#b72442" stroke="#5a1024" stroke-width="0.95"/>
<circle cx="158.4" cy="447.4" r="2.4" fill="#b72442" stroke="#5a1024" stroke-width="0.95"/>
<circle cx="158.4" cy="440.7" r="2.4" fill="#b72442" stroke="#5a1024" stroke-width="0.95"/>
<line x1="172.4" y1="412.5" x2="181.6" y2="414" stroke="#1a1a1a" stroke-width="1.0"/>
<line x1="172.4" y1="415.5" x2="181.6" y2="418" stroke="#1a1a1a" stroke-width="1.0"/>
<line x1="172.4" y1="418.5" x2="181.6" y2="418" stroke="#1a1a1a" stroke-width="1.0"/>
<circle cx="172.4" cy="412.5" r="2.4" fill="#245579" stroke="#15263a" stroke-width="0.95"/>
<circle cx="172.4" cy="415.5" r="2.4" fill="#245579" stroke="#15263a" stroke-width="0.95"/>
<circle cx="172.4" cy="418.5" r="2.4" fill="#245579" stroke="#15263a" stroke-width="0.95"/>
<circle cx="181.6" cy="414" r="2.4" fill="#b72442" stroke="#5a1024" stroke-width="0.95"/>
<circle cx="181.6" cy="418" r="2.4" fill="#b72442" stroke="#5a1024" stroke-width="0.95"/>
<line x1="196.2" y1="393" x2="205.4" y2="395" stroke="#1a1a1a" stroke-width="1.0"/>
<line x1="196.2" y1="395.5" x2="205.4" y2="397.5" stroke="#1a1a1a" stroke-width="1.0"/>
<circle cx="196.2" cy="393" r="2.4" fill="#245579" stroke="#15263a" stroke-width="0.95"/>
<circle cx="196.2" cy="395.5" r="2.4" fill="#245579" stroke="#15263a" stroke-width="0.95"/>
<circle cx="205.4" cy="395" r="2.4" fill="#b72442" stroke="#5a1024" stroke-width="0.95"/>
<circle cx="205.4" cy="397.5" r="2.4" fill="#b72442" stroke="#5a1024" stroke-width="0.95"/>
<line x1="220.4" y1="428.5" x2="229.2" y2="429.8" stroke="#1a1a1a" stroke-width="1.0"/>
<line x1="220.4" y1="431.5" x2="229.2" y2="433.6" stroke="#1a1a1a" stroke-width="1.0"/>
<line x1="220.4" y1="434.5" x2="229.2" y2="437.4" stroke="#1a1a1a" stroke-width="1.0"/>
<line x1="220.4" y1="434.5" x2="229.2" y2="441.2" stroke="#1a1a1a" stroke-width="1.0"/>
<line x1="220.4" y1="434.5" x2="229.2" y2="444.8" stroke="#1a1a1a" stroke-width="1.0"/>
<line x1="220.4" y1="434.5" x2="229.2" y2="448.3" stroke="#1a1a1a" stroke-width="1.0"/>
<circle cx="220.4" cy="428.5" r="2.4" fill="#245579" stroke="#15263a" stroke-width="0.95"/>
<circle cx="220.4" cy="431.5" r="2.4" fill="#245579" stroke="#15263a" stroke-width="0.95"/>
<circle cx="220.4" cy="434.5" r="2.4" fill="#245579" stroke="#15263a" stroke-width="0.95"/>
<circle cx="229.2" cy="429.8" r="2.4" fill="#b72442" stroke="#5a1024" stroke-width="0.95"/>
<circle cx="229.2" cy="433.6" r="2.4" fill="#b72442" stroke="#5a1024" stroke-width="0.95"/>
<circle cx="229.2" cy="437.4" r="2.4" fill="#b72442" stroke="#5a1024" stroke-width="0.95"/>
<circle cx="229.2" cy="441.2" r="2.4" fill="#b72442" stroke="#5a1024" stroke-width="0.95"/>
<circle cx="229.2" cy="444.8" r="2.4" fill="#b72442" stroke="#5a1024" stroke-width="0.95"/>
<circle cx="229.2" cy="448.3" r="2.4" fill="#b72442" stroke="#5a1024" stroke-width="0.95"/>
<path d="M53.5 368.8 V361.5 H63.5 V365.8" fill="none" stroke="#333" stroke-width="1.1"/>
<text x="45.75" y="354.8" font-size="9.0" fill="#333" textLength="44.5" lengthAdjust="spacingAndGlyphs"><tspan font-style="italic">P</tspan> = .0354</text>
<path d="M196.5 389.2 V384.5 H205.5 V389.2" fill="none" stroke="#333" stroke-width="1.1"/>
<text x="178.8" y="378.5" font-size="9.0" fill="#333" textLength="44.5" lengthAdjust="spacingAndGlyphs"><tspan font-style="italic">P</tspan> = .0312</text>
<path d="M220.5 438 V456.5 H229.5 V451" fill="none" stroke="#333" stroke-width="1.1"/>
<text x="203" y="468" font-size="9.0" fill="#333" textLength="44.5" lengthAdjust="spacingAndGlyphs"><tspan font-style="italic">P</tspan> = .0366</text>
<text x="8.45" y="327.7" font-size="12" text-anchor="start" font-weight="bold" fill="#111">C</text>
<text x="128.1" y="310.1" font-size="10" text-anchor="middle" font-weight="normal" fill="#333" textLength="49.5" lengthAdjust="spacingAndGlyphs">Fibrinolysis</text>
<circle cx="78.39999999999999" cy="544.6" r="2.45" fill="#26486a" stroke="#172638" stroke-width="1.1"/>
<text x="83.5" y="547.6" font-size="8.8" text-anchor="start" font-weight="normal" fill="#333" textLength="57.6" lengthAdjust="spacingAndGlyphs">Untrau ECFCs</text>
<circle cx="150.0" cy="544.6" r="2.45" fill="#a82240" stroke="#5a1024" stroke-width="1.1"/>
<text x="155.6" y="547.6" font-size="8.8" text-anchor="start" font-weight="normal" fill="#333" textLength="48.2" lengthAdjust="spacingAndGlyphs">Trau ECFCs</text>
<path d="M303.2 335.0 V485.6 H494.9" fill="none" stroke="#1a1a1a" stroke-width="1.2"/>
<line x1="299.59999999999997" y1="478.75" x2="303.2" y2="478.75" stroke="#222" stroke-width="1.0"/>
<text x="296.3" y="481.882" font-size="8.7" text-anchor="end" font-weight="normal" fill="#333" textLength="5.240963855421686" lengthAdjust="spacingAndGlyphs">0</text>
<line x1="299.59999999999997" y1="443.75" x2="303.2" y2="443.75" stroke="#222" stroke-width="1.0"/>
<text x="296.3" y="446.882" font-size="8.7" text-anchor="end" font-weight="normal" fill="#333" textLength="5.240963855421686" lengthAdjust="spacingAndGlyphs">5</text>
<line x1="299.59999999999997" y1="408.75" x2="303.2" y2="408.75" stroke="#222" stroke-width="1.0"/>
<text x="296.3" y="411.882" font-size="8.7" text-anchor="end" font-weight="normal" fill="#333" textLength="10.481927710843372" lengthAdjust="spacingAndGlyphs">10</text>
<line x1="299.59999999999997" y1="373.75" x2="303.2" y2="373.75" stroke="#222" stroke-width="1.0"/>
<text x="296.3" y="376.882" font-size="8.7" text-anchor="end" font-weight="normal" fill="#333" textLength="10.481927710843372" lengthAdjust="spacingAndGlyphs">15</text>
<line x1="299.59999999999997" y1="338.75" x2="303.2" y2="338.75" stroke="#222" stroke-width="1.0"/>
<text x="296.3" y="341.882" font-size="8.7" text-anchor="end" font-weight="normal" fill="#333" textLength="10.481927710843372" lengthAdjust="spacingAndGlyphs">20</text>
<line x1="317.3" y1="485.6" x2="317.3" y2="489.20000000000005" stroke="#222" stroke-width="1.0"/>
<text transform="translate(320.80,498.40) rotate(-45)" font-size="9.8" text-anchor="end" fill="#333" textLength="10.04" lengthAdjust="spacingAndGlyphs">F3</text>
<line x1="338.2" y1="485.6" x2="338.2" y2="489.20000000000005" stroke="#222" stroke-width="1.0"/>
<text transform="translate(341.70,498.40) rotate(-45)" font-size="9.8" text-anchor="end" fill="#333" textLength="10.04" lengthAdjust="spacingAndGlyphs">F8</text>
<line x1="359.1" y1="485.6" x2="359.1" y2="489.20000000000005" stroke="#222" stroke-width="1.0"/>
<text transform="translate(362.60,498.40) rotate(-45)" font-size="9.8" text-anchor="end" fill="#333" textLength="18.63" lengthAdjust="spacingAndGlyphs">TFPI</text>
<line x1="380.0" y1="485.6" x2="380.0" y2="489.20000000000005" stroke="#222" stroke-width="1.0"/>
<text transform="translate(383.50,498.40) rotate(-45)" font-size="9.8" text-anchor="end" fill="#333" textLength="22.94" lengthAdjust="spacingAndGlyphs">SDC1</text>
<line x1="400.9" y1="485.6" x2="400.9" y2="489.20000000000005" stroke="#222" stroke-width="1.0"/>
<text transform="translate(404.40,498.40) rotate(-45)" font-size="9.8" text-anchor="end" fill="#333" textLength="31.06" lengthAdjust="spacingAndGlyphs">PROCR</text>
<line x1="421.8" y1="485.6" x2="421.8" y2="489.20000000000005" stroke="#222" stroke-width="1.0"/>
<text transform="translate(425.30,498.40) rotate(-45)" font-size="9.8" text-anchor="end" fill="#333" textLength="23.41" lengthAdjust="spacingAndGlyphs">THBD</text>
<line x1="442.7" y1="485.6" x2="442.7" y2="489.20000000000005" stroke="#222" stroke-width="1.0"/>
<text transform="translate(446.20,498.40) rotate(-45)" font-size="9.8" text-anchor="end" fill="#333" textLength="19.11" lengthAdjust="spacingAndGlyphs">VWF</text>
<line x1="463.6" y1="485.6" x2="463.6" y2="489.20000000000005" stroke="#222" stroke-width="1.0"/>
<text transform="translate(467.10,498.40) rotate(-45)" font-size="9.8" text-anchor="end" fill="#333" textLength="45.40" lengthAdjust="spacingAndGlyphs">ADAMTS13</text>
<line x1="484.5" y1="485.6" x2="484.5" y2="489.20000000000005" stroke="#222" stroke-width="1.0"/>
<text transform="translate(488.00,498.40) rotate(-45)" font-size="9.8" text-anchor="end" fill="#333" textLength="21.51" lengthAdjust="spacingAndGlyphs">LRP1</text>
<text transform="translate(274.9,406.6) rotate(-90)" font-size="10" font-weight="bold" text-anchor="middle" fill="#2a2a2a" textLength="29.9" lengthAdjust="spacingAndGlyphs">Log<tspan font-size="6.8" dy="2.1">2</tspan><tspan dy="-2.1">CPM</tspan></text>
<line x1="313.1" y1="429.6" x2="321.2" y2="436.3" stroke="#1a1a1a" stroke-width="1.0"/>
<line x1="313.1" y1="437.3" x2="321.2" y2="441.5" stroke="#1a1a1a" stroke-width="1.0"/>
<line x1="313.1" y1="445" x2="321.2" y2="449.2" stroke="#1a1a1a" stroke-width="1.0"/>
<line x1="313.1" y1="447.9" x2="321.2" y2="453.7" stroke="#1a1a1a" stroke-width="1.0"/>
<line x1="313.1" y1="456" x2="321.2" y2="453.7" stroke="#1a1a1a" stroke-width="1.0"/>
<circle cx="313.1" cy="429.6" r="2.4" fill="#245579" stroke="#15263a" stroke-width="0.95"/>
<circle cx="313.1" cy="437.3" r="2.4" fill="#245579" stroke="#15263a" stroke-width="0.95"/>
<circle cx="313.1" cy="445" r="2.4" fill="#245579" stroke="#15263a" stroke-width="0.95"/>
<circle cx="313.1" cy="447.9" r="2.4" fill="#245579" stroke="#15263a" stroke-width="0.95"/>
<circle cx="313.1" cy="456" r="2.4" fill="#245579" stroke="#15263a" stroke-width="0.95"/>
<circle cx="321.2" cy="436.3" r="2.4" fill="#b72442" stroke="#5a1024" stroke-width="0.95"/>
<circle cx="321.2" cy="441.5" r="2.4" fill="#b72442" stroke="#5a1024" stroke-width="0.95"/>
<circle cx="321.2" cy="449.2" r="2.4" fill="#b72442" stroke="#5a1024" stroke-width="0.95"/>
<circle cx="321.2" cy="453.7" r="2.4" fill="#b72442" stroke="#5a1024" stroke-width="0.95"/>
<line x1="334.2" y1="431.5" x2="341.3" y2="436.3" stroke="#1a1a1a" stroke-width="1.0"/>
<line x1="334.2" y1="437.3" x2="341.3" y2="441.2" stroke="#1a1a1a" stroke-width="1.0"/>
<line x1="334.2" y1="442" x2="341.3" y2="445" stroke="#1a1a1a" stroke-width="1.0"/>
<line x1="334.2" y1="445.4" x2="341.3" y2="445" stroke="#1a1a1a" stroke-width="1.0"/>
<circle cx="334.2" cy="431.5" r="2.4" fill="#245579" stroke="#15263a" stroke-width="0.95"/>
<circle cx="334.2" cy="437.3" r="2.4" fill="#245579" stroke="#15263a" stroke-width="0.95"/>
<circle cx="334.2" cy="442" r="2.4" fill="#245579" stroke="#15263a" stroke-width="0.95"/>
<circle cx="334.2" cy="445.4" r="2.4" fill="#245579" stroke="#15263a" stroke-width="0.95"/>
<circle cx="341.3" cy="436.3" r="2.4" fill="#b72442" stroke="#5a1024" stroke-width="0.95"/>
<circle cx="341.3" cy="441.2" r="2.4" fill="#b72442" stroke="#5a1024" stroke-width="0.95"/>
<circle cx="341.3" cy="445" r="2.4" fill="#b72442" stroke="#5a1024" stroke-width="0.95"/>
<line x1="355.2" y1="383.8" x2="363.5" y2="390.2" stroke="#1a1a1a" stroke-width="1.0"/>
<line x1="355.2" y1="390.2" x2="363.5" y2="394" stroke="#1a1a1a" stroke-width="1.0"/>
<line x1="355.2" y1="393.1" x2="363.5" y2="398.5" stroke="#1a1a1a" stroke-width="1.0"/>
<line x1="355.2" y1="396.9" x2="363.5" y2="398.5" stroke="#1a1a1a" stroke-width="1.0"/>
<line x1="355.2" y1="401.7" x2="363.5" y2="398.5" stroke="#1a1a1a" stroke-width="1.0"/>
<circle cx="355.2" cy="383.8" r="2.4" fill="#245579" stroke="#15263a" stroke-width="0.95"/>
<circle cx="355.2" cy="390.2" r="2.4" fill="#245579" stroke="#15263a" stroke-width="0.95"/>
<circle cx="355.2" cy="393.1" r="2.4" fill="#245579" stroke="#15263a" stroke-width="0.95"/>
<circle cx="355.2" cy="396.9" r="2.4" fill="#245579" stroke="#15263a" stroke-width="0.95"/>
<circle cx="355.2" cy="401.7" r="2.4" fill="#245579" stroke="#15263a" stroke-width="0.95"/>
<circle cx="363.5" cy="390.2" r="2.4" fill="#b72442" stroke="#5a1024" stroke-width="0.95"/>
<circle cx="363.5" cy="394" r="2.4" fill="#b72442" stroke="#5a1024" stroke-width="0.95"/>
<circle cx="363.5" cy="398.5" r="2.4" fill="#b72442" stroke="#5a1024" stroke-width="0.95"/>
<line x1="376.3" y1="421.9" x2="384" y2="427.7" stroke="#1a1a1a" stroke-width="1.0"/>
<line x1="376.3" y1="426.7" x2="384" y2="429.6" stroke="#1a1a1a" stroke-width="1.0"/>
<line x1="376.3" y1="436.3" x2="384" y2="436.3" stroke="#1a1a1a" stroke-width="1.0"/>
<line x1="376.3" y1="446.9" x2="384" y2="448.8" stroke="#1a1a1a" stroke-width="1.0"/>
<line x1="376.3" y1="446.9" x2="384" y2="458.8" stroke="#1a1a1a" stroke-width="1.0"/>
<circle cx="376.3" cy="421.9" r="2.4" fill="#245579" stroke="#15263a" stroke-width="0.95"/>
<circle cx="376.3" cy="426.7" r="2.4" fill="#245579" stroke="#15263a" stroke-width="0.95"/>
<circle cx="376.3" cy="436.3" r="2.4" fill="#245579" stroke="#15263a" stroke-width="0.95"/>
<circle cx="376.3" cy="446.9" r="2.4" fill="#245579" stroke="#15263a" stroke-width="0.95"/>
<circle cx="384" cy="427.7" r="2.4" fill="#b72442" stroke="#5a1024" stroke-width="0.95"/>
<circle cx="384" cy="429.6" r="2.4" fill="#b72442" stroke="#5a1024" stroke-width="0.95"/>
<circle cx="384" cy="436.3" r="2.4" fill="#b72442" stroke="#5a1024" stroke-width="0.95"/>
<circle cx="384" cy="448.8" r="2.4" fill="#b72442" stroke="#5a1024" stroke-width="0.95"/>
<circle cx="384" cy="458.8" r="2.4" fill="#b72442" stroke="#5a1024" stroke-width="0.95"/>
<line x1="396.9" y1="395.8" x2="404.6" y2="393.3" stroke="#1a1a1a" stroke-width="1.0"/>
<line x1="396.9" y1="399.6" x2="404.6" y2="400.4" stroke="#1a1a1a" stroke-width="1.0"/>
<line x1="396.9" y1="403.8" x2="404.6" y2="407.7" stroke="#1a1a1a" stroke-width="1.0"/>
<line x1="396.9" y1="408.7" x2="404.6" y2="411.5" stroke="#1a1a1a" stroke-width="1.0"/>
<line x1="396.9" y1="408.7" x2="404.6" y2="416.9" stroke="#1a1a1a" stroke-width="1.0"/>
<circle cx="396.9" cy="395.8" r="2.4" fill="#245579" stroke="#15263a" stroke-width="0.95"/>
<circle cx="396.9" cy="399.6" r="2.4" fill="#245579" stroke="#15263a" stroke-width="0.95"/>
<circle cx="396.9" cy="403.8" r="2.4" fill="#245579" stroke="#15263a" stroke-width="0.95"/>
<circle cx="396.9" cy="408.7" r="2.4" fill="#245579" stroke="#15263a" stroke-width="0.95"/>
<circle cx="404.6" cy="393.3" r="2.4" fill="#b72442" stroke="#5a1024" stroke-width="0.95"/>
<circle cx="404.6" cy="400.4" r="2.4" fill="#b72442" stroke="#5a1024" stroke-width="0.95"/>
<circle cx="404.6" cy="407.7" r="2.4" fill="#b72442" stroke="#5a1024" stroke-width="0.95"/>
<circle cx="404.6" cy="411.5" r="2.4" fill="#b72442" stroke="#5a1024" stroke-width="0.95"/>
<circle cx="404.6" cy="416.9" r="2.4" fill="#b72442" stroke="#5a1024" stroke-width="0.95"/>
<line x1="418.1" y1="413.5" x2="425.8" y2="413.5" stroke="#1a1a1a" stroke-width="1.0"/>
<line x1="418.1" y1="417.3" x2="425.8" y2="421.5" stroke="#1a1a1a" stroke-width="1.0"/>
<line x1="418.1" y1="422.1" x2="425.8" y2="426.9" stroke="#1a1a1a" stroke-width="1.0"/>
<line x1="418.1" y1="422.1" x2="425.8" y2="430.8" stroke="#1a1a1a" stroke-width="1.0"/>
<line x1="418.1" y1="422.1" x2="425.8" y2="435" stroke="#1a1a1a" stroke-width="1.0"/>
<line x1="418.1" y1="422.1" x2="425.8" y2="439.4" stroke="#1a1a1a" stroke-width="1.0"/>
<circle cx="418.1" cy="413.5" r="2.4" fill="#245579" stroke="#15263a" stroke-width="0.95"/>
<circle cx="418.1" cy="417.3" r="2.4" fill="#245579" stroke="#15263a" stroke-width="0.95"/>
<circle cx="418.1" cy="422.1" r="2.4" fill="#245579" stroke="#15263a" stroke-width="0.95"/>
<circle cx="425.8" cy="413.5" r="2.4" fill="#b72442" stroke="#5a1024" stroke-width="0.95"/>
<circle cx="425.8" cy="421.5" r="2.4" fill="#b72442" stroke="#5a1024" stroke-width="0.95"/>
<circle cx="425.8" cy="426.9" r="2.4" fill="#b72442" stroke="#5a1024" stroke-width="0.95"/>
<circle cx="425.8" cy="430.8" r="2.4" fill="#b72442" stroke="#5a1024" stroke-width="0.95"/>
<circle cx="425.8" cy="435" r="2.4" fill="#b72442" stroke="#5a1024" stroke-width="0.95"/>
<circle cx="425.8" cy="439.4" r="2.4" fill="#b72442" stroke="#5a1024" stroke-width="0.95"/>
<line x1="439.2" y1="364.4" x2="446.7" y2="368.3" stroke="#1a1a1a" stroke-width="1.0"/>
<line x1="439.2" y1="369.2" x2="446.7" y2="372.1" stroke="#1a1a1a" stroke-width="1.0"/>
<line x1="439.2" y1="374" x2="446.7" y2="377.9" stroke="#1a1a1a" stroke-width="1.0"/>
<line x1="439.2" y1="378.8" x2="446.7" y2="383.1" stroke="#1a1a1a" stroke-width="1.0"/>
<line x1="439.2" y1="389.4" x2="446.7" y2="395.8" stroke="#1a1a1a" stroke-width="1.0"/>
<line x1="439.2" y1="410" x2="446.7" y2="408.1" stroke="#1a1a1a" stroke-width="1.0"/>
<circle cx="439.2" cy="364.4" r="2.4" fill="#245579" stroke="#15263a" stroke-width="0.95"/>
<circle cx="439.2" cy="369.2" r="2.4" fill="#245579" stroke="#15263a" stroke-width="0.95"/>
<circle cx="439.2" cy="374" r="2.4" fill="#245579" stroke="#15263a" stroke-width="0.95"/>
<circle cx="439.2" cy="378.8" r="2.4" fill="#245579" stroke="#15263a" stroke-width="0.95"/>
<circle cx="439.2" cy="389.4" r="2.4" fill="#245579" stroke="#15263a" stroke-width="0.95"/>
<circle cx="439.2" cy="410" r="2.4" fill="#245579" stroke="#15263a" stroke-width="0.95"/>
<circle cx="446.7" cy="368.3" r="2.4" fill="#b72442" stroke="#5a1024" stroke-width="0.95"/>
<circle cx="446.7" cy="372.1" r="2.4" fill="#b72442" stroke="#5a1024" stroke-width="0.95"/>
<circle cx="446.7" cy="377.9" r="2.4" fill="#b72442" stroke="#5a1024" stroke-width="0.95"/>
<circle cx="446.7" cy="383.1" r="2.4" fill="#b72442" stroke="#5a1024" stroke-width="0.95"/>
<circle cx="446.7" cy="395.8" r="2.4" fill="#b72442" stroke="#5a1024" stroke-width="0.95"/>
<circle cx="446.7" cy="408.1" r="2.4" fill="#b72442" stroke="#5a1024" stroke-width="0.95"/>
<line x1="460" y1="432.5" x2="468.1" y2="442.1" stroke="#1a1a1a" stroke-width="1.0"/>
<line x1="460" y1="436.3" x2="468.1" y2="445.4" stroke="#1a1a1a" stroke-width="1.0"/>
<line x1="460" y1="440.2" x2="468.1" y2="448.8" stroke="#1a1a1a" stroke-width="1.0"/>
<line x1="460" y1="444.6" x2="468.1" y2="457.5" stroke="#1a1a1a" stroke-width="1.0"/>
<line x1="460" y1="444.6" x2="468.1" y2="460.2" stroke="#1a1a1a" stroke-width="1.0"/>
<circle cx="460" cy="432.5" r="2.4" fill="#245579" stroke="#15263a" stroke-width="0.95"/>
<circle cx="460" cy="436.3" r="2.4" fill="#245579" stroke="#15263a" stroke-width="0.95"/>
<circle cx="460" cy="440.2" r="2.4" fill="#245579" stroke="#15263a" stroke-width="0.95"/>
<circle cx="460" cy="444.6" r="2.4" fill="#245579" stroke="#15263a" stroke-width="0.95"/>
<circle cx="468.1" cy="442.1" r="2.4" fill="#b72442" stroke="#5a1024" stroke-width="0.95"/>
<circle cx="468.1" cy="445.4" r="2.4" fill="#b72442" stroke="#5a1024" stroke-width="0.95"/>
<circle cx="468.1" cy="448.8" r="2.4" fill="#b72442" stroke="#5a1024" stroke-width="0.95"/>
<circle cx="468.1" cy="457.5" r="2.4" fill="#b72442" stroke="#5a1024" stroke-width="0.95"/>
<circle cx="468.1" cy="460.2" r="2.4" fill="#b72442" stroke="#5a1024" stroke-width="0.95"/>
<line x1="481.2" y1="419.6" x2="489.6" y2="405.6" stroke="#1a1a1a" stroke-width="1.0"/>
<line x1="481.2" y1="422.9" x2="489.6" y2="416.2" stroke="#1a1a1a" stroke-width="1.0"/>
<line x1="481.2" y1="427.3" x2="489.6" y2="419.6" stroke="#1a1a1a" stroke-width="1.0"/>
<line x1="481.2" y1="433.5" x2="489.6" y2="422.9" stroke="#1a1a1a" stroke-width="1.0"/>
<line x1="481.2" y1="433.5" x2="489.6" y2="425.8" stroke="#1a1a1a" stroke-width="1.0"/>
<circle cx="481.2" cy="419.6" r="2.4" fill="#245579" stroke="#15263a" stroke-width="0.95"/>
<circle cx="481.2" cy="422.9" r="2.4" fill="#245579" stroke="#15263a" stroke-width="0.95"/>
<circle cx="481.2" cy="427.3" r="2.4" fill="#245579" stroke="#15263a" stroke-width="0.95"/>
<circle cx="481.2" cy="433.5" r="2.4" fill="#245579" stroke="#15263a" stroke-width="0.95"/>
<circle cx="489.6" cy="405.6" r="2.4" fill="#b72442" stroke="#5a1024" stroke-width="0.95"/>
<circle cx="489.6" cy="416.2" r="2.4" fill="#b72442" stroke="#5a1024" stroke-width="0.95"/>
<circle cx="489.6" cy="419.6" r="2.4" fill="#b72442" stroke="#5a1024" stroke-width="0.95"/>
<circle cx="489.6" cy="422.9" r="2.4" fill="#b72442" stroke="#5a1024" stroke-width="0.95"/>
<circle cx="489.6" cy="425.8" r="2.4" fill="#b72442" stroke="#5a1024" stroke-width="0.95"/>
<path d="M376.5 419 V415.5 H384.5 V422" fill="none" stroke="#333" stroke-width="1.1"/>
<text x="344.2" y="411.5" font-size="9.0" fill="#333" textLength="44.5" lengthAdjust="spacingAndGlyphs"><tspan font-style="italic">P</tspan> = .0313</text>
<path d="M418.5 426 V447.5 H426.5 V443" fill="none" stroke="#333" stroke-width="1.1"/>
<text x="400.3" y="459.2" font-size="9.0" fill="#333" textLength="44.5" lengthAdjust="spacingAndGlyphs"><tspan font-style="italic">P</tspan> = .0366</text>
<path d="M460.5 452.8 V467.5 H468.5 V463" fill="none" stroke="#333" stroke-width="1.1"/>
<text x="450.1" y="476.0" font-size="9.0" fill="#333" textLength="44.5" lengthAdjust="spacingAndGlyphs"><tspan font-style="italic">P</tspan> = .0312</text>
<path d="M480.5 413.3 V395.5 H489.5 V400" fill="none" stroke="#333" stroke-width="1.1"/>
<text x="463.3" y="389" font-size="9.0" fill="#333" textLength="44.5" lengthAdjust="spacingAndGlyphs"><tspan font-style="italic">P</tspan> = .0312</text>
<text x="265.95" y="327.2" font-size="12" text-anchor="start" font-weight="bold" fill="#111">D</text>
<text x="386.3" y="309.5" font-size="10" text-anchor="middle" font-weight="normal" fill="#333" textLength="54" lengthAdjust="spacingAndGlyphs">Coagulation</text>
<circle cx="338.40000000000003" cy="544.6" r="2.45" fill="#26486a" stroke="#172638" stroke-width="1.1"/>
<text x="343.5" y="547.6" font-size="8.8" text-anchor="start" font-weight="normal" fill="#333" textLength="57.6" lengthAdjust="spacingAndGlyphs">Untrau ECFCs</text>
<circle cx="410.0" cy="544.6" r="2.45" fill="#a82240" stroke="#5a1024" stroke-width="1.1"/>
<text x="415.6" y="547.6" font-size="8.8" text-anchor="start" font-weight="normal" fill="#333" textLength="48.2" lengthAdjust="spacingAndGlyphs">Trau ECFCs</text>
<text x="255" y="16.8" font-size="10" text-anchor="middle" font-weight="normal" fill="#333" textLength="86.5" lengthAdjust="spacingAndGlyphs">Early trauma&#160; (2 hr)</text>
<text x="253.3" y="295.1" font-size="10" text-anchor="middle" font-weight="normal" fill="#333" textLength="87.5" lengthAdjust="spacingAndGlyphs">Late trauma (24 hr)</text>
<rect x="0.5" y="0.5" width="519" height="556" fill="none" stroke="#444" stroke-width="1"/>
</svg>
</body></html>
